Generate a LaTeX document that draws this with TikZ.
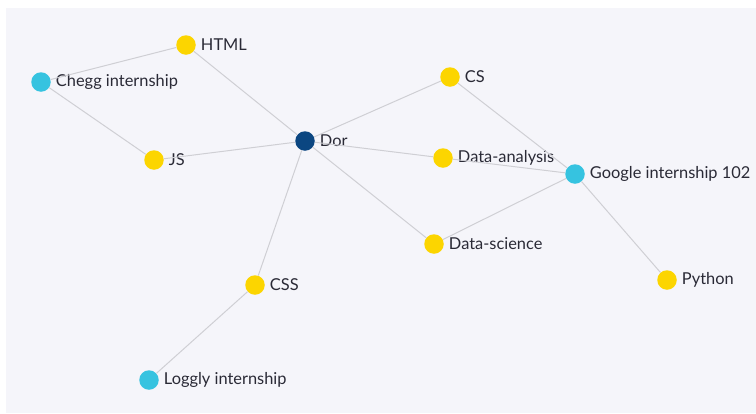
\documentclass[tikz,border=0pt]{standalone}
\usepackage{fontspec}
\setmainfont{Lato}
\usetikzlibrary{positioning}
\definecolor{bgcol}{HTML}{F5F5FA}
\definecolor{skill}{HTML}{FCD500}
\definecolor{intern}{HTML}{36C3E0}
\definecolor{person}{HTML}{0B4681}
\definecolor{edgecol}{HTML}{CFCFD4}
\definecolor{txt}{HTML}{2A2A36}
\tikzset{
  dot/.style={circle, inner sep=0pt, minimum size=19.5pt},
  skillnode/.style={dot, fill=skill},
  internnode/.style={dot, fill=intern},
  personnode/.style={dot, fill=person},
  every label/.style={text=txt, font=\fontsize{16.4}{19}\selectfont, label distance=1.5pt},
  link/.style={edgecol, line width=1pt}
}

\begin{document}
\begin{tikzpicture}[x=1pt, y=-1pt]
    % Rahmen und Hintergrund
    \useasboundingbox (0,0) rectangle (756,413);
    \fill[bgcol] (6,8) rectangle (756,413);

    % Knoten
    \node[personnode, label=right:Dor] (dor) at (305,141) {};
    \node[skillnode, label=right:HTML] (html) at (186,45) {};
    \node[skillnode, label=right:JS] (js) at (154,160) {};
    \node[skillnode, label=right:CS] (cs) at (450,77) {};
    \node[skillnode, label=right:Data-analysis] (danalysis) at (443,158) {};
    \node[skillnode, label=right:Data-science] (dscience) at (434,244) {};
    \node[skillnode, label=right:CSS] (css) at (255,285) {};
    \node[skillnode, label=right:Python] (python) at (667,280) {};
    \node[internnode, label=right:Chegg internship] (chegg) at (41,82) {};
    \node[internnode, label=right:Google internship 102] (google) at (575,174) {};
    \node[internnode, label=right:Loggly internship] (loggly) at (149,380) {};

    % Kanten
    \foreach \a/\b in {chegg/html, chegg/js, html/dor, js/dor, dor/cs,
                       dor/danalysis, dor/dscience, dor/css, cs/google,
                       danalysis/google, dscience/google, google/python,
                       css/loggly} {
        \draw[link] (\a) -- (\b);
    }
\end{tikzpicture}
\end{document}
